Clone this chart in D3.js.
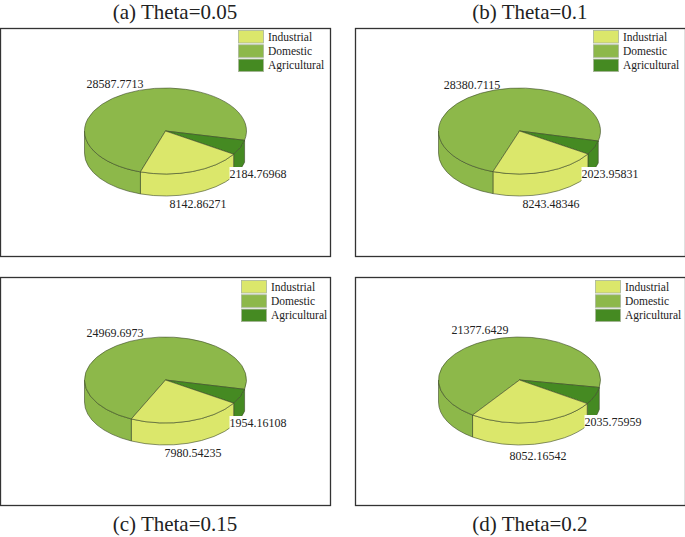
<!DOCTYPE html>
<html><head><meta charset="utf-8">
<script src="https://cdn.jsdelivr.net/npm/d3@7"></script>
<style>html,body{margin:0;padding:0;background:#fff}svg{display:block}text{font-family:"Liberation Serif",serif;fill:#222}</style>
</head><body><svg id="c" width="685" height="537"></svg>
<script>
const titles = ["(a) Theta=0.05","(b) Theta=0.1","(c) Theta=0.15","(d) Theta=0.2"];
const categories = ["Agricultural","Industrial","Domestic"];
const legendOrder = ["Industrial","Domestic","Agricultural"];
const agricultural = [2184.76968,2023.95831,1954.16108,2035.75959];
const industrial = [8142.86271,8243.48346,7980.54235,8052.16542];
const domestic = [28587.7713,28380.7115,24969.6973,21377.6429];
const agriculturalText = ["2184.76968","2023.95831","1954.16108","2035.75959"];
const industrialText = ["8142.86271","8243.48346","7980.54235","8052.16542"];
const domesticText = ["28587.7713","28380.7115","24969.6973","21377.6429"];

const colors = d3.scaleOrdinal().domain(categories).range(["#458a22","#dbe76b","#8db84a"]);
const stroke = "#3c4a28";
const rx = 81, ry = 43, depth = 22;
const panels = [
 {x:0,y:28,w:330,h:228,cx:165.5,cy:131,start:12.5,tx:175,ty:19,lx:238,ly:30,
  l:{Agricultural:[258,174],Industrial:[198,204],Domestic:[115,84]}},
 {x:355,y:28,w:330,h:228,cx:519.5,cy:131,start:13.5,tx:530,ty:19,lx:593,ly:30,
  l:{Agricultural:[610,174],Industrial:[551,204],Domestic:[472,85]}},
 {x:0,y:277,w:330,h:228,cx:165.5,cy:380,start:12.5,tx:175,ty:531,lx:241,ly:280,
  l:{Agricultural:[258,423],Industrial:[193,453],Domestic:[115,333]}},
 {x:355,y:277,w:330,h:228,cx:519.5,cy:380,start:10,tx:530,ty:531,lx:595,ly:280,
  l:{Agricultural:[613,422],Industrial:[538,456],Domestic:[480,330]}}
];
const svg = d3.select("#c");
const rad = d3.scaleLinear().domain([0,360]).range([0,2*Math.PI]);
const arc = d3.arc().innerRadius(0).outerRadius(rx);

panels.forEach((p,i)=>{
  const vals = [agricultural[i],industrial[i],domestic[i]];
  const texts = {Agricultural:agriculturalText[i],Industrial:industrialText[i],Domestic:domesticText[i]};
  const a0 = rad(90+p.start);
  const slices = d3.pie().sort(null).value(d=>d.v).startAngle(a0).endAngle(a0+2*Math.PI)(
    categories.map((c,k)=>({c,v:vals[k]})));
  svg.append("text").attr("x",p.tx).attr("y",p.ty).attr("text-anchor","middle").attr("font-size",21).text(titles[i]);
  svg.append("rect").attr("x",p.x+.5).attr("y",p.y+.5).attr("width",p.w).attr("height",p.h)
     .attr("fill","#fff").attr("stroke","#333").attr("stroke-width",1.3);
  const g = svg.append("g").attr("transform",`translate(${p.cx},${p.cy})`);
  const lo = Math.PI/2, hi = 3*Math.PI/2;
  const pt = a => [rx*Math.sin(a), -ry*Math.cos(a)];
  slices.forEach(s=>{
    const u = Math.max(s.startAngle,lo), v = Math.min(s.endAngle,hi);
    if(v<=u) return;
    const [x0,y0]=pt(u),[x1,y1]=pt(v);
    const large = (v-u)>Math.PI?1:0;
    g.append("path").attr("d",
      `M${x0},${y0}A${rx},${ry} 0 ${large} 1 ${x1},${y1}L${x1},${y1+depth}A${rx},${ry} 0 ${large} 0 ${x0},${y0+depth}Z`)
     .attr("fill",colors(s.data.c)).attr("stroke",stroke).attr("stroke-width",.6);
  });
  const top = g.append("g").attr("transform",`scale(1,${ry/rx})`);
  top.selectAll("path").data([slices[2],slices[0],slices[1]]).join("path")
     .attr("d",arc).attr("fill",d=>colors(d.data.c)).attr("stroke",stroke)
     .attr("stroke-width",.6).attr("vector-effect","non-scaling-stroke");
  categories.forEach(c=>{
    const [x,y]=p.l[c];
    const t = svg.append("text").attr("x",x).attr("y",y+4).attr("text-anchor","middle").attr("font-size",12).text(texts[c]);
    if(c==="Agricultural"){
      const bb=t.node().getBBox();
      svg.insert("rect",()=>t.node()).attr("x",bb.x).attr("y",bb.y).attr("width",bb.width).attr("height",bb.height).attr("fill","#fff");
    }
  });
  legendOrder.forEach((c,k)=>{
    svg.append("rect").attr("x",p.lx+.5).attr("y",p.ly+14.3*k+.5).attr("width",25).attr("height",12.5)
       .attr("fill",colors(c)).attr("stroke","#a9b59a").attr("stroke-width",.8);
    svg.append("text").attr("x",p.lx+30).attr("y",p.ly+14.3*k+10.5).attr("font-size",11.5).text(c);
  });
});
</script></body></html>
